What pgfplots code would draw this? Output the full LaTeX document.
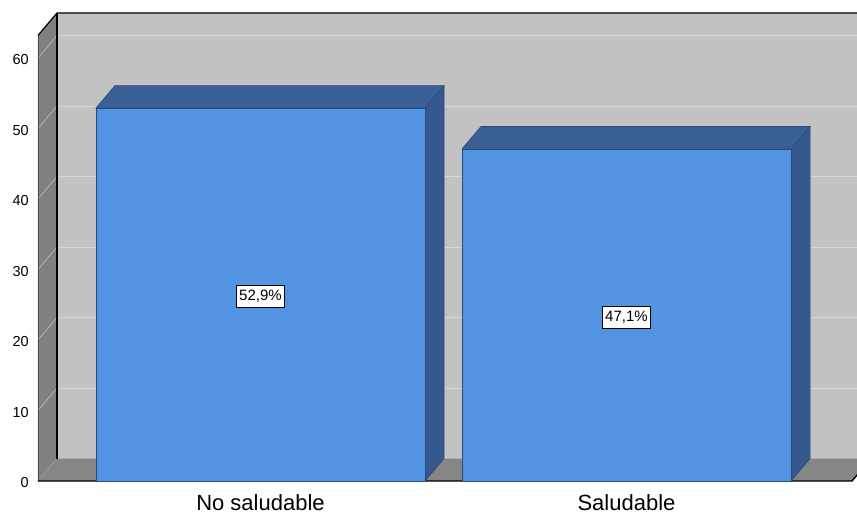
\documentclass[border=0pt]{standalone}
\usepackage{fontspec}
\setmainfont{Liberation Sans}
\usepackage{pgfplots}
\usepackage{pgfplotstable}
\pgfplotsset{compat=1.18}

\definecolor{barfront}{HTML}{5394E2}
\definecolor{bartop}{HTML}{3A5E96}
\definecolor{barside}{HTML}{35588E}
\definecolor{baredge}{HTML}{2C4A78}
\definecolor{wallback}{HTML}{C2C2C2}
\definecolor{wallside}{HTML}{808080}
\definecolor{gridback}{HTML}{D6D6D6}
\definecolor{gridside}{HTML}{B4B4B4}

% percentages per category (bar centre, value)
\pgfplotstableread{
x y
260.5 52.9
626.5 47.1
}\datatable

\pgfplotstablegetelem{0}{y}\of\datatable \let\vA\pgfplotsretval
\pgfplotstablegetelem{1}{y}\of\datatable \let\vB\pgfplotsretval

% depth of the 3-D effect: 19 units to the right, 3.19 units up
\def\dv{3.19}
\pgfmathsetmacro\vAb{\vA+\dv}
\pgfmathsetmacro\vBb{\vB+\dv}
\pgfmathsetmacro\vAh{\vA/2}
\pgfmathsetmacro\vBh{\vB/2}

\begin{document}
\begin{tikzpicture}
\begin{axis}[
  x=1pt, y=7.05pt,
  xmin=38, xmax=852, ymin=0, ymax=63.2,
  clip=false,
  axis line style={draw=none},
  tick style={draw=none},
  major tick length=0pt,
  xtick={260.5,626.5},
  xticklabels={No saludable, Saludable},
  xticklabel style={anchor=base, yshift=-29pt, font=\fontsize{22}{24}\selectfont},
  ytick={0,10,...,60},
  yticklabel style={anchor=east, inner sep=0pt, xshift=-9pt, yshift=-2pt,
    font=\fontsize{14.5}{16}\selectfont},
  /pgf/number format/assume math mode=true,
]
% back wall
\addplot[fill=wallback, draw=none] coordinates {(57,3.19) (876,3.19) (876,66.39) (57,66.39)} -- cycle;
\pgfplotsinvokeforeach{10,20,30,40,50,60}{
  \draw[gridback, line width=1pt] (axis cs:57,{#1+\dv}) -- (axis cs:876,{#1+\dv});
}
% left wall
\addplot[fill=wallside, draw=none] coordinates {(38,0) (57,3.19) (57,66.39) (38,63.2)} -- cycle;
\pgfplotsinvokeforeach{0,10,20,30,40,50,60}{
  \draw[gridside, line width=0.8pt] (axis cs:38,#1) -- (axis cs:57,{#1+\dv});
}
% floor
\addplot[fill=wallside!95!white, draw=none] coordinates {(38,0) (852,0) (871,3.19) (57,3.19)} -- cycle;
% frame edges
\draw[black!70, line width=0.8pt] (axis cs:38,0) -- (axis cs:38,63.2);
\draw[black, line width=1.4pt] (axis cs:57,3.19) -- (axis cs:57,66.39);
\draw[black, line width=1.2pt] (axis cs:38,63.2) -- (axis cs:57,66.39) -- (axis cs:876,66.39);
\draw[black, line width=1.4pt] (axis cs:38,0) -- (axis cs:852,0) -- (axis cs:871,3.19);

% bar tops and sides
\addplot[fill=barside, draw=baredge, line width=0.6pt] coordinates {(425,0) (444,3.19) (444,\vAb) (425,\vA)} -- cycle;
\addplot[fill=bartop, draw=baredge, line width=0.6pt] coordinates {(96,\vA) (425,\vA) (444,\vAb) (115,\vAb)} -- cycle;
\addplot[fill=barside, draw=baredge, line width=0.6pt] coordinates {(791,0) (810,3.19) (810,\vBb) (791,\vB)} -- cycle;
\addplot[fill=bartop, draw=baredge, line width=0.6pt] coordinates {(462,\vB) (791,\vB) (810,\vBb) (481,\vBb)} -- cycle;
% bar fronts
\addplot[ybar, bar width=329, fill=barfront, draw=baredge, line width=0.6pt] table[x=x, y=y] {\datatable};

% value labels
\node[draw=black, fill=white, line width=0.8pt, inner xsep=3pt, inner ysep=0pt,
  minimum height=22pt, yshift=-2pt, font=\fontsize{15}{17}\selectfont]
  at (axis cs:260.5,\vAh) {52,9\%};
\node[draw=black, fill=white, line width=0.8pt, inner xsep=3pt, inner ysep=0pt,
  minimum height=22pt, yshift=-2pt, font=\fontsize{15}{17}\selectfont]
  at (axis cs:626.5,\vBh) {47,1\%};

\coordinate (bbSW) at (axis cs:0,-4.539);
\coordinate (bbNE) at (axis cs:857,68.227);
\end{axis}
\pgfresetboundingbox
\useasboundingbox (bbSW) rectangle (bbNE);
\end{tikzpicture}
\end{document}
